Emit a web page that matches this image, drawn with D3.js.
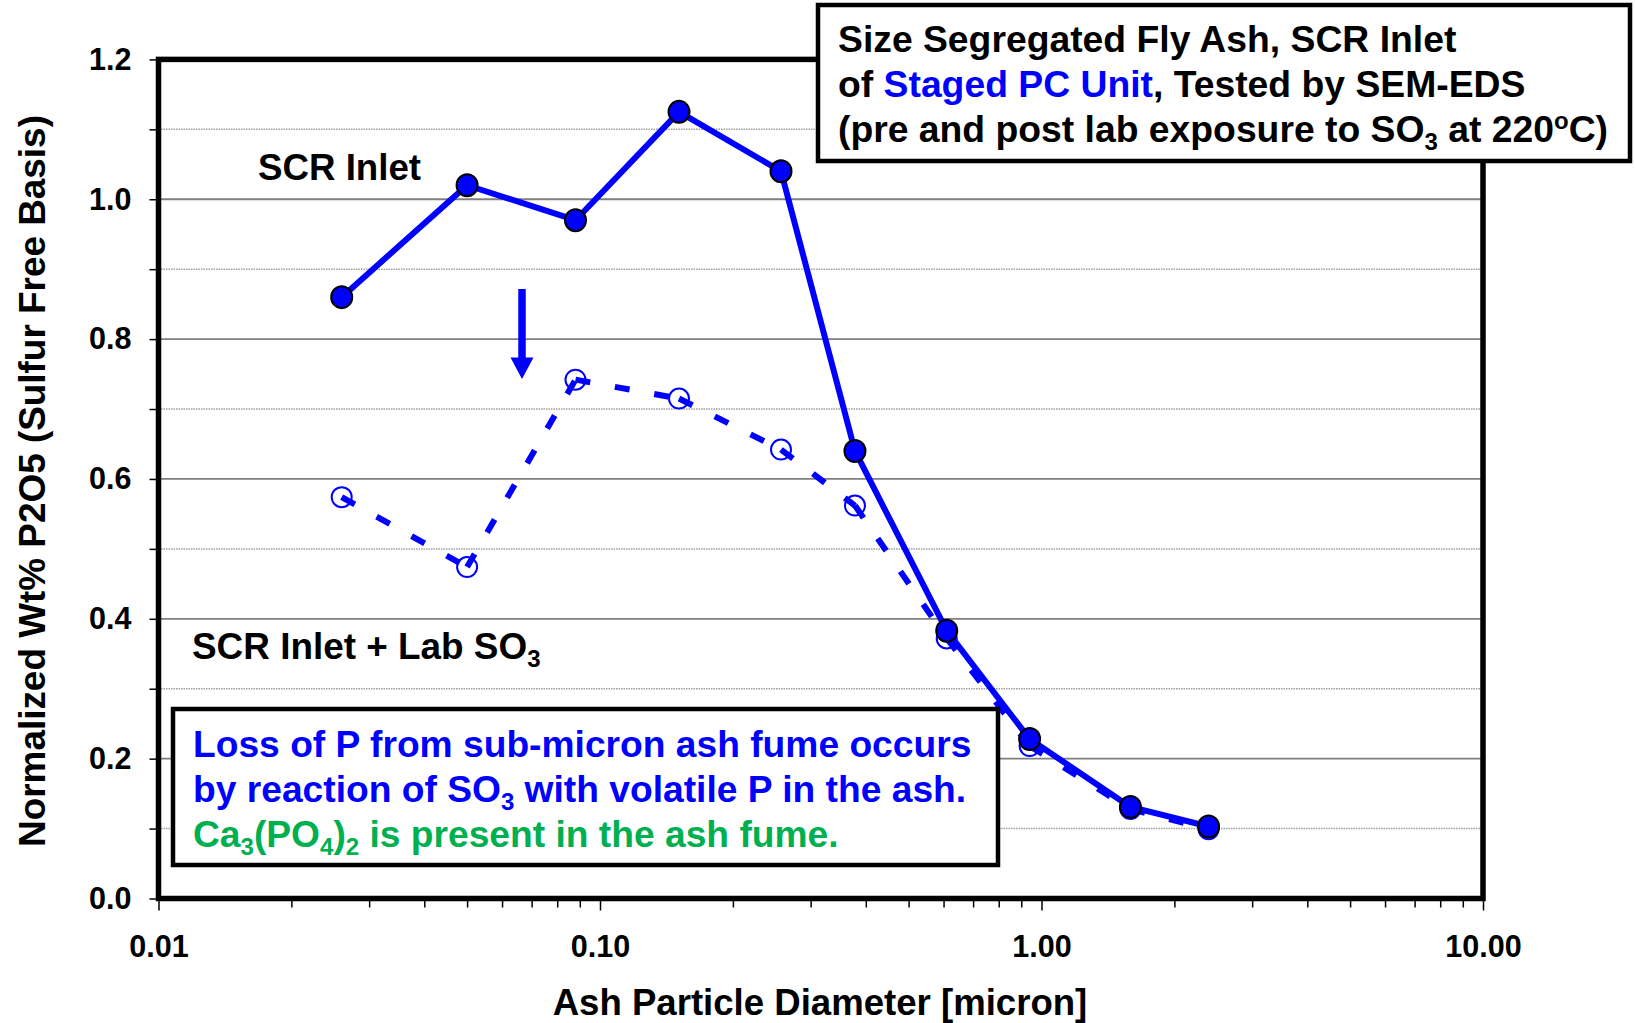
<!DOCTYPE html>
<html>
<head>
<meta charset="utf-8">
<script src="https://cdn.jsdelivr.net/npm/d3@7"></script>
<style>
html,body{margin:0;padding:0;background:#fff;}
svg{display:block;font-family:"Liberation Sans",Arial,sans-serif;font-weight:bold;}
</style>
</head>
<body>
<script>
// ---- data ----
const diameters = [0.026, 0.050, 0.088, 0.151, 0.257, 0.378, 0.61, 0.94, 1.59, 2.39];
const scrInlet = [0.86, 1.02, 0.97, 1.125, 1.04, 0.64, 0.383, 0.228, 0.131, 0.103];
const scrInletLabSO3 = [0.574, 0.474, 0.742, 0.715, 0.642, 0.562, 0.372, 0.218, 0.128, 0.099];
const yTickValues = [0, 0.2, 0.4, 0.6, 0.8, 1.0, 1.2];
const yMinorValues = [0.1, 0.3, 0.5, 0.7, 0.9, 1.1];
const xTickValues = [0.01, 0.1, 1, 10];
const xTickLabels = ["0.01", "0.10", "1.00", "10.00"];

const W = 1635, H = 1023;
const BLUE = "#0000ff", GREEN = "#00b050";

const svg = d3.select("body").append("svg").attr("width", W).attr("height", H);

const x = d3.scaleLog().domain([0.01, 10]).range([158.5, 1483]);
const y = d3.scaleLinear().domain([0, 1.2]).range([898.5, 59.4]);

// gridlines
const grid = svg.append("g");
grid.selectAll("line.minor").data(yMinorValues).join("line")
  .attr("x1", x(0.01)).attr("x2", x(10))
  .attr("y1", d => y(d)).attr("y2", d => y(d))
  .attr("stroke", "#a0a0a0").attr("stroke-width", 1.5).attr("stroke-dasharray", "1.5,1");
grid.selectAll("line.major").data(yTickValues.filter(v => v > 0 && v < 1.2)).join("line")
  .attr("x1", x(0.01)).attr("x2", x(10))
  .attr("y1", d => y(d)).attr("y2", d => y(d))
  .attr("stroke", "#7f7f7f").attr("stroke-width", 1.8);

// y axis
const yAxis = d3.axisLeft(y).tickValues(yTickValues.concat(yMinorValues)).tickSize(9)
  .tickFormat(d => yTickValues.includes(d) ? d3.format(".1f")(d) : "").tickPadding(18);
const gy = svg.append("g").attr("transform", `translate(${x(0.01)},0)`).call(yAxis);
gy.select(".domain").remove();
gy.selectAll(".tick line").attr("stroke", "#000").attr("stroke-width", 1.5);
gy.selectAll(".tick text").attr("font-size", 30.5).attr("font-weight", "bold")
  .attr("font-family", "Liberation Sans, Arial, sans-serif").attr("fill", "#000");

// x axis
const minorX = [];
[0.01, 0.1, 1].forEach(b => { for (let k = 2; k <= 9; k++) minorX.push(+(b * k).toPrecision(3)); });
const gxMinor = svg.append("g").attr("transform", `translate(0,${y(0)})`)
  .call(d3.axisBottom(x).tickValues(minorX).tickSize(9).tickFormat(""));
gxMinor.select(".domain").remove();
gxMinor.selectAll(".tick line").attr("stroke", "#000").attr("stroke-width", 1.5);
const gx = svg.append("g").attr("transform", `translate(0,${y(0)})`)
  .call(d3.axisBottom(x).tickValues(xTickValues).tickSize(12)
    .tickFormat((d, i) => xTickLabels[i]).tickPadding(25));
gx.select(".domain").remove();
gx.selectAll(".tick line").attr("stroke", "#000").attr("stroke-width", 1.5);
gx.selectAll(".tick text").attr("font-size", 30.5).attr("font-weight", "bold")
  .attr("font-family", "Liberation Sans, Arial, sans-serif").attr("fill", "#000");

// plot frame
svg.append("rect")
  .attr("x", x(0.01)).attr("y", y(1.2))
  .attr("width", x(10) - x(0.01)).attr("height", y(0) - y(1.2))
  .attr("fill", "none").attr("stroke", "#000").attr("stroke-width", 5.5);

// axis titles
svg.append("text").attr("x", 820).attr("y", 1015).attr("text-anchor", "middle")
  .attr("font-size", 36.6).text("Ash Particle Diameter [micron]");
svg.append("text").attr("transform", "translate(45,481) rotate(-90)").attr("text-anchor", "middle")
  .attr("font-size", 36.9).text("Normalized Wt% P2O5 (Sulfur Free Basis)");

// series: SCR Inlet + Lab SO3 (open markers, dashed)
const openPts = diameters.map((d, i) => [x(d), y(scrInletLabSO3[i])]);
svg.append("g").selectAll("circle").data(openPts).join("circle")
  .attr("cx", d => d[0]).attr("cy", d => d[1]).attr("r", 10)
  .attr("fill", "#fff").attr("stroke", BLUE).attr("stroke-width", 2);
const segs = d3.pairs(openPts);
svg.append("g").selectAll("line").data(segs).join("line")
  .attr("x1", d => d[0][0]).attr("y1", d => d[0][1])
  .attr("x2", d => d[1][0]).attr("y2", d => d[1][1])
  .attr("stroke", BLUE).attr("stroke-width", 6).attr("stroke-dasharray", "15,25");

// series: SCR Inlet (filled markers, solid)
const line = d3.line().x(d => x(d[0])).y(d => y(d[1]));
const filled = diameters.map((d, i) => [d, scrInlet[i]]);
svg.append("path").datum(filled).attr("d", line)
  .attr("fill", "none").attr("stroke", BLUE).attr("stroke-width", 6).attr("stroke-linejoin", "round");
svg.append("g").selectAll("ellipse").data(filled).join("ellipse")
  .attr("cx", d => x(d[0])).attr("cy", d => y(d[1])).attr("rx", 10.5).attr("ry", 11)
  .attr("fill", BLUE).attr("stroke", "#000").attr("stroke-width", 2);

// annotation labels
svg.append("text").attr("x", 258).attr("y", 180).attr("font-size", 36.7).text("SCR Inlet");
const lab = svg.append("text").attr("x", 192).attr("y", 659).attr("font-size", 36.9);
lab.append("tspan").text("SCR Inlet + Lab SO");
lab.append("tspan").attr("font-size", 24).attr("dy", 8).text("3");

// arrow
svg.append("line").attr("x1", 522).attr("y1", 289).attr("x2", 522).attr("y2", 360)
  .attr("stroke", BLUE).attr("stroke-width", 7.5);
svg.append("path").attr("d", "M510.5,357.5 L533.5,357.5 L522,379 Z").attr("fill", BLUE);

// title box
svg.append("rect").attr("x", 818).attr("y", 5).attr("width", 812).attr("height", 156)
  .attr("fill", "#fff").attr("stroke", "#000").attr("stroke-width", 4.5);
const t1 = svg.append("text").attr("x", 838).attr("y", 52).attr("font-size", 37.3);
t1.text("Size Segregated Fly Ash, SCR Inlet");
const t2 = svg.append("text").attr("x", 838).attr("y", 97).attr("font-size", 37.3);
t2.append("tspan").text("of ");
t2.append("tspan").attr("fill", BLUE).text("Staged PC Unit");
t2.append("tspan").text(", Tested by SEM-EDS");
const t3 = svg.append("text").attr("x", 838).attr("y", 142).attr("font-size", 37.3);
t3.append("tspan").text("(pre and post lab exposure to SO");
t3.append("tspan").attr("font-size", 24).attr("dy", 8).text("3");
t3.append("tspan").attr("dy", -8).text(" at 220");
t3.append("tspan").attr("font-size", 24).attr("dy", -13).text("o");
t3.append("tspan").attr("dy", 13).text("C)");

// bottom note box
svg.append("rect").attr("x", 173).attr("y", 709).attr("width", 825).attr("height", 156)
  .attr("fill", "#fff").attr("stroke", "#000").attr("stroke-width", 4.5);
const b1 = svg.append("text").attr("x", 193).attr("y", 757).attr("font-size", 37.2).attr("fill", BLUE);
b1.text("Loss of P from sub-micron ash fume occurs");
const b2 = svg.append("text").attr("x", 193).attr("y", 802).attr("font-size", 37.2).attr("fill", BLUE);
b2.append("tspan").text("by reaction of SO");
b2.append("tspan").attr("font-size", 24).attr("dy", 8).text("3");
b2.append("tspan").attr("dy", -8).text(" with volatile P in the ash.");
const b3 = svg.append("text").attr("x", 193).attr("y", 847).attr("font-size", 37.2).attr("fill", GREEN);
b3.append("tspan").text("Ca");
b3.append("tspan").attr("font-size", 24).attr("dy", 8).text("3");
b3.append("tspan").attr("dy", -8).text("(PO");
b3.append("tspan").attr("font-size", 24).attr("dy", 8).text("4");
b3.append("tspan").attr("dy", -8).text(")");
b3.append("tspan").attr("font-size", 24).attr("dy", 8).text("2");
b3.append("tspan").attr("dy", -8).text(" is present in the ash fume.");
</script>
</body>
</html>
